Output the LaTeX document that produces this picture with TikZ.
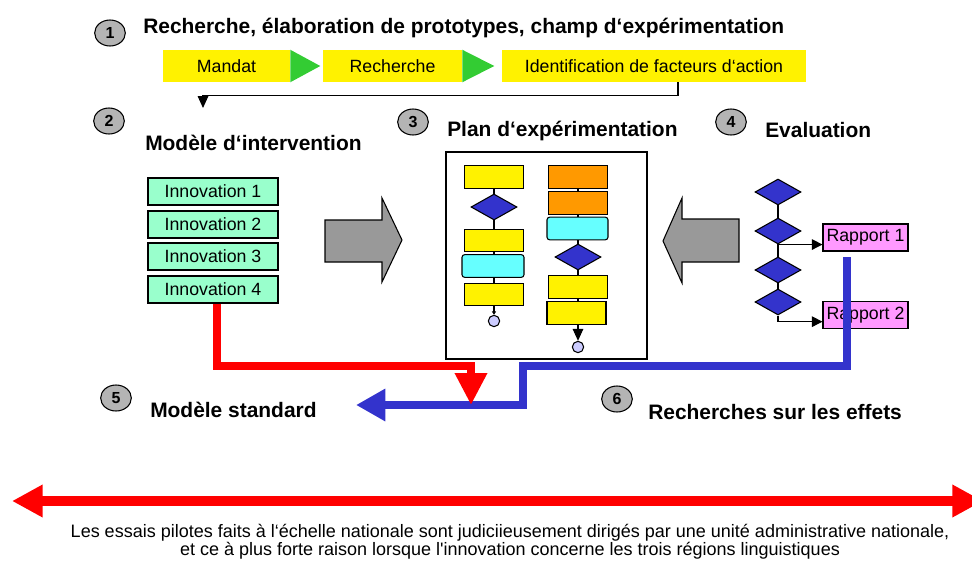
\documentclass[tikz,border=0pt]{standalone}
\usepackage{fontspec}
\setmainfont{Liberation Sans}
\usetikzlibrary{backgrounds,shapes.geometric,arrows.meta}

\definecolor{badgegray}{RGB}{180,180,180}
\definecolor{stagegreen}{RGB}{51,204,51}
\definecolor{innogreen}{RGB}{153,255,204}
\definecolor{proccyan}{RGB}{102,255,255}
\definecolor{procorange}{RGB}{255,153,0}
\definecolor{decblue}{RGB}{51,51,204}
\definecolor{termblue}{RGB}{204,204,255}
\definecolor{reportpink}{RGB}{255,153,255}
\definecolor{arrowgray}{RGB}{153,153,153}
\definecolor{flowblue}{RGB}{51,51,204}

\begin{document}
\begin{tikzpicture}[x=0.75pt,y=-0.75pt]
    % `badge' is the grey numbered ellipse, `heading' the bold titles.
    % `stage' is a yellow box of the top row, `innov' a box of the model.
    % `process', `decision' and `terminal' build the small flow charts.
    \tikzstyle{badge} = [draw,line width=0.8pt,fill=badgegray,ellipse,inner sep=0pt,minimum width=23pt,minimum height=19.5pt,font=\fontsize{12}{14}\selectfont\bfseries]
    \tikzstyle{heading} = [anchor=west,inner sep=0pt,font=\fontsize{15.7}{18}\selectfont\bfseries]
    \tikzstyle{stage} = [fill=yellow,minimum height=24pt,inner sep=0pt,font=\fontsize{13.3}{15}\selectfont]
    \tikzstyle{innov} = [draw,line width=0.8pt,fill=innogreen,minimum width=97.5pt,minimum height=20.25pt,inner sep=0pt,font=\fontsize{13.3}{15}\selectfont]
    \tikzstyle{process} = [draw,line width=0.8pt,fill=yellow,minimum width=44.25pt,minimum height=17pt,inner sep=0pt]
    \tikzstyle{decision} = [draw,line width=0.8pt,fill=decblue,diamond,inner sep=0pt,minimum width=34.5pt,minimum height=19.5pt]
    \tikzstyle{terminal} = [draw,line width=0.8pt,fill=termblue,circle,inner sep=0pt,minimum size=8.5pt]
    \tikzstyle{report} = [draw,line width=0.8pt,fill=reportpink,minimum width=63.75pt,minimum height=20.25pt,inner sep=0pt,font=\fontsize{13.3}{15}\selectfont]
    \tikzstyle{bigarrow} = [draw,line width=0.8pt,fill=arrowgray]
    \tikzstyle{link} = [line width=0.8pt]
    \tikzstyle{flow} = [line width=5.7pt]
    %
    \useasboundingbox (0,0) rectangle (972,561);

    % Step 1: research chain.
    \node[badge] (b1) at (110,33) {1};
    \node[heading] (t1) at (143,28) {Recherche, élaboration de prototypes, champ d‘expérimentation};
    \node[stage,minimum width=95.25pt] (mandat) at (226.5,66) {Mandat};
    \node[stage,minimum width=104.25pt] (recherche) at (392.5,66) {Recherche};
    \node[stage,minimum width=228pt] (ident) at (654,66) {Identification de facteurs d‘action};
    \fill[stagegreen] (mandat.north east) -- (mandat.south east) -- ([xshift=22.5pt]mandat.east) -- cycle;
    \fill[stagegreen] (recherche.north east) -- (recherche.south east) -- ([xshift=24pt]recherche.east) -- cycle;
    \coordinate (drop) at (203,108);
    \draw[link,-{Triangle[width=8pt,length=9pt]}] ([xshift=18pt]ident.south) -- ++(0,13) -| (drop);

    % Step 2: intervention model.
    \node[badge] (b2) at (109,121) {2};
    \node[heading] (t2) at (145,143) {Modèle d‘intervention};
    \node[innov] (inno1) at (213,191.5) {Innovation 1};
    \node[innov] (inno2) at (213,224.5) {Innovation 2};
    \node[innov] (inno3) at (213,256.5) {Innovation 3};
    \node[innov] (inno4) at (213,289.5) {Innovation 4};
    \filldraw[bigarrow] (325,220) -- (382,220) -- (382,198) -- (402,240) -- (382,282) -- (382,262) -- (325,262) -- cycle;

    % Step 3: experiment plan.
    \node[badge] (b3) at (413,122) {3};
    \node[heading] (t3) at (447,131) {Plan d‘expérimentation};
    \node[draw,line width=0.8pt,minimum width=150.75pt,minimum height=155.25pt] (plan) at (546.5,255.5) {};
    \node[process] (A1) at (494,177) {};
    \node[decision] (Da) at (494,207) {};
    \node[process] (A2) at (494,240.5) {};
    \node[process,fill=proccyan,rounded corners=2pt,minimum width=46.5pt] (A3) at (493,266) {};
    \node[process] (A4) at (494,294.5) {};
    \node[terminal] (ca) at (494,321) {};
    \node[process,fill=procorange] (B1) at (578,177) {};
    \node[process,fill=procorange] (B2) at (578,203) {};
    \node[process,fill=proccyan,rounded corners=2pt,minimum width=45.75pt] (B3) at (577.5,228.5) {};
    \node[decision] (Db) at (578,257) {};
    \node[process] (B4) at (578,287) {};
    \node[process] (B5) at (576.5,313) {};
    \node[terminal] (cb) at (578,347) {};
    \draw[link,-{Triangle[width=3pt,length=2.5pt]}] (A4.south) -- (ca.north);
    \draw[link,-{Triangle[width=8pt,length=9pt]}] (B5.south -| cb) -- (cb.north);

    % Step 4: evaluation.
    \node[badge] (b4) at (731,122) {4};
    \node[heading] (t4) at (765,130) {Evaluation};
    \filldraw[bigarrow] (739,219) -- (682,219) -- (682,198) -- (663,241) -- (682,283) -- (682,262) -- (739,262) -- cycle;
    \node[decision] (E1) at (778,192) {};
    \node[decision] (E2) at (778,231) {};
    \node[decision] (E3) at (778,270) {};
    \node[decision] (E4) at (778,302) {};
    \node[report] (rap1) at (865.5,237.5) {Rapport 1};
    \node[report] (rap2) at (865.5,315) {Rapport 2};
    \draw[link,-{Triangle[width=8pt,length=8pt]}] (E2.south) -- (E2.south -| rap1.west);
    \draw[link,-{Triangle[width=8pt,length=8pt]}] (E4.south) |- ([yshift=-5pt]rap2.west);

    \begin{pgfonlayer}{background}
        % Draw the lines behind the chart symbols.
        \draw[link] (A1.center) -- (A4.center);
        \draw[link] (B1.center) -- (B5.center -| B1);
        \draw[link] (E1.center) -- (E4.center);
    \end{pgfonlayer}

    % Steps 5 and 6: results.
    \node[badge] (b5) at (116,398) {5};
    \node[heading] (t5) at (150,410) {Modèle standard};
    \node[badge] (b6) at (617,399) {6};
    \node[heading] (t6) at (648,412) {Recherches sur les effets};

    \coordinate (evalout) at (847,257);
    \coordinate (blueturn) at (523,366);
    \coordinate (bluetip) at (356,405);
    \draw[flow,draw=flowblue,-{Triangle[width=23pt,length=22pt]}] (evalout) |- (blueturn) |- (bluetip);
    \coordinate (redturn) at (471,366);
    \coordinate (redtip) at (471,405);
    \draw[flow,draw=red,-{Triangle[width=23pt,length=24pt]}] ([xshift=3pt]inno4.south) |- (redturn) -- (redtip);

    % National scope.
    \coordinate (westend) at (12,501);
    \coordinate (eastend) at (983,501);
    \draw[line width=7.5pt,draw=red,{Triangle[width=23pt,length=23pt]}-{Triangle[width=23pt,length=23pt]}] (westend) -- (eastend);
    \node[align=center,font=\fontsize{13.5}{13.8}\selectfont] (note) at (510,542) {Les essais pilotes faits à l‘échelle nationale sont judiciieusement dirigés par une unité administrative nationale,\\et ce à plus forte raison lorsque l\textquotesingle innovation concerne les trois régions linguistiques};
\end{tikzpicture}
\end{document}
